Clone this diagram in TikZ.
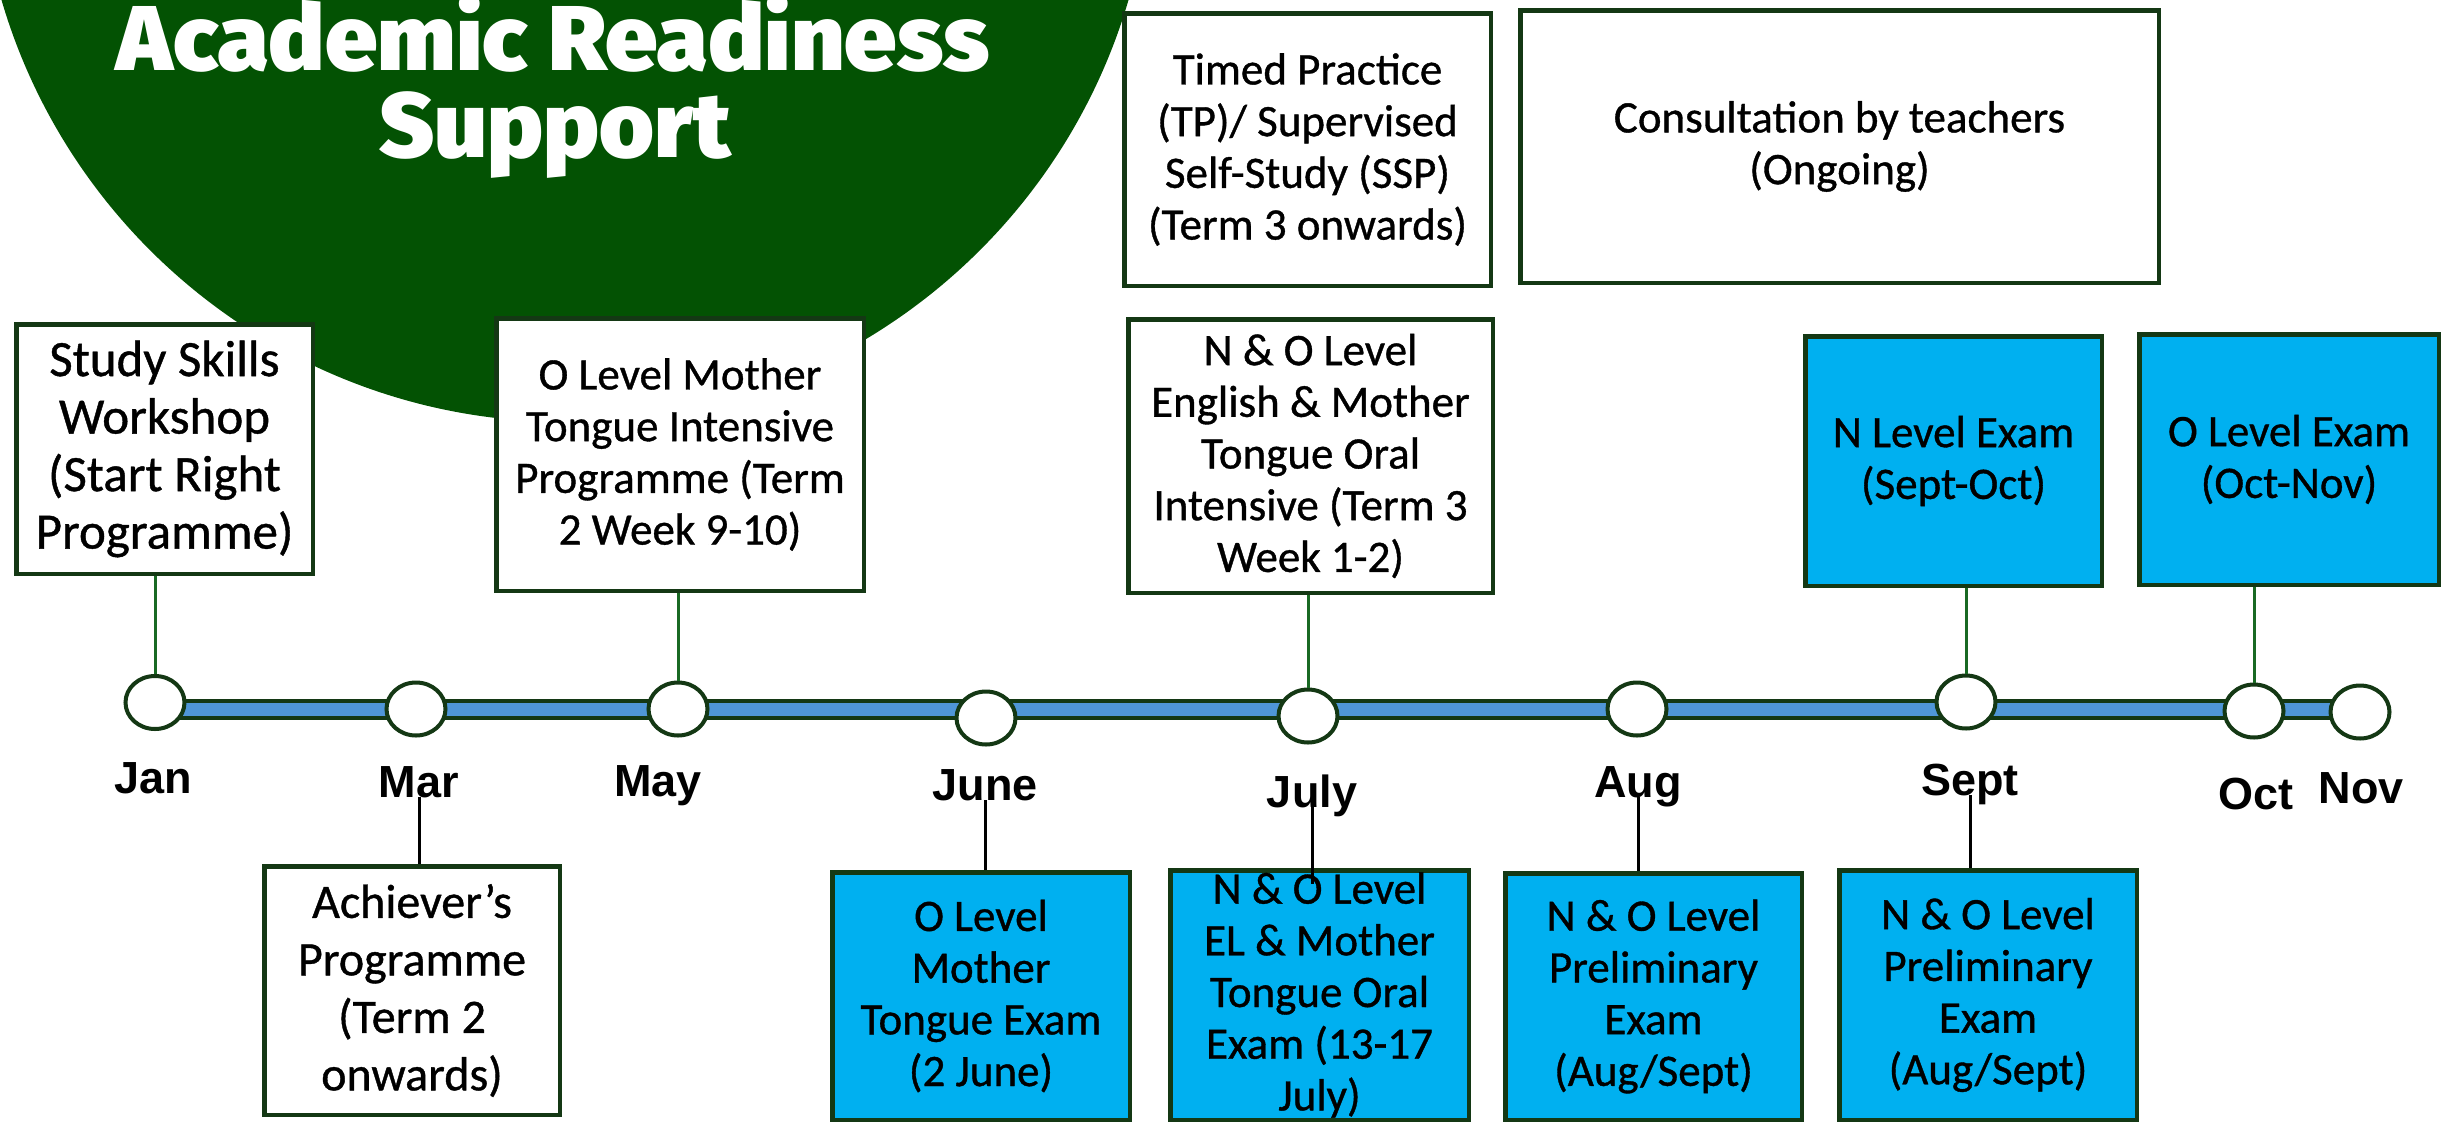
\documentclass[tikz,border=0pt]{standalone}
\usepackage{fontspec}
\setmainfont{Carlito}[FakeBold=0.8]
\newfontfamily\titlefont{Fira Sans Black}
\newfontfamily\monthfont{Liberation Sans}
\usetikzlibrary{shapes.geometric}
\definecolor{circgreen}{RGB}{3,82,3}
\definecolor{edge}{RGB}{20,56,20}
\definecolor{upgreen}{RGB}{25,105,35}
\definecolor{boxblue}{RGB}{0,176,240}
\definecolor{barblue}{RGB}{79,150,215}
\tikzset{
  evbox/.style={draw=edge, line width=4.5pt, fill=white, align=center, inner sep=0pt,
    font=\fontsize{45}{51.7}\selectfont},
  bigbox/.style={evbox, font=\fontsize{51}{57.5}\selectfont},
  exambox/.style={evbox, fill=boxblue},
  monthlbl/.style={font=\monthfont\bfseries\fontsize{45}{50}\selectfont, inner sep=0pt, anchor=base},
  dot/.style={ellipse, draw=edge, line width=4pt, fill=white, minimum width=59pt, minimum height=53pt, inner sep=0pt},
  upline/.style={draw=upgreen, line width=3pt},
  downline/.style={draw=black, line width=3pt},
  titletxt/.style={text=white, font=\titlefont\fontsize{92}{92}\selectfont, inner sep=0pt, anchor=base},
}
\begin{document}
\begin{tikzpicture}[x=1pt,y=-1pt]
\useasboundingbox (0,0) rectangle (2453,1122);
\begin{scope}
  \clip (0,0) rectangle (2453,1122);
  \fill[circgreen] (565,-165) circle (587);
\end{scope}
\node[titletxt] (title1) at (553,70) {\scalebox{1.02}[1]{Academic Readiness}};
\node[titletxt] (title2) at (555,157) {\scalebox{1.02}[1]{Support}};

% timeline bar
\coordinate (barL) at (155,709.5);
\coordinate (barR) at (2360,709.5);
\draw[draw=edge, line width=21pt] (barL) -- (barR);
\draw[draw=barblue, line width=13pt] (barL) -- (barR);

% month dots
\node[dot] (jan) at (155,702.5) {};
\node[dot] (mar) at (416,709) {};
\node[dot] (may) at (678,709) {};
\node[dot] (jun) at (986,718) {};
\node[dot] (jul) at (1308,716) {};
\node[dot] (aug) at (1637,709) {};
\node[dot] (sep) at (1966,702) {};
\node[dot] (oct) at (2254,711) {};
\node[dot] (nov) at (2360,712) {};

% month labels
\node[monthlbl] (ljan) at (153,793) {Jan};
\node[monthlbl] (lmar) at (419,797) {Mar};
\node[monthlbl] (lmay) at (658,796) {May};
\node[monthlbl] (ljun) at (985,800) {June};
\node[monthlbl] (ljul) at (1312,807) {July};
\node[monthlbl] (laug) at (1638,797) {Aug};
\node[monthlbl] (lsep) at (1970,795) {Sept};
\node[monthlbl] (loct) at (2256,809) {Oct};
\node[monthlbl] (lnov) at (2361,803) {Nov};

% upper boxes
\node[bigbox, minimum width=296.5pt, minimum height=249.5pt] (study) at (164.5,449)
  {Study Skills\\Workshop\\(Start Right\\Programme)};
\node[evbox, minimum width=367.5pt, minimum height=272.5pt] (omti) at (680,454.5)
  {O Level Mother\\Tongue Intensive\\Programme (Term\\2 Week 9-10)};
\node[evbox, minimum width=366.5pt, minimum height=272.5pt] (tp) at (1307.5,149.5)
  {Timed Practice\\(TP)/ Supervised\\Self-Study (SSP)\\(Term 3 onwards)};
\node[evbox, minimum width=638.5pt, minimum height=272.5pt] (consult) at (1839.5,146.5)
  {Consultation by teachers\\(Ongoing)};
\node[evbox, minimum width=364.5pt, minimum height=273.5pt] (noint) at (1310.5,456)
  {N \& O Level\\English \& Mother\\Tongue Oral\\Intensive (Term 3\\Week 1-2)};
\node[exambox, minimum width=296.5pt, minimum height=249.5pt] (nexam) at (1953.5,461)
  {N Level Exam\\(Sept-Oct)};
\node[exambox, minimum width=299.5pt, minimum height=250.5pt] (oexam) at (2289,459.5)
  {O Level Exam\\(Oct-Nov)};

% lower boxes
\node[evbox, font=\fontsize{48}{57.5}\selectfont, minimum width=295.5pt, minimum height=248.5pt] (achiever) at (412,990.5)
  {Achiever’s\\Programme\\(Term 2\\onwards)};
\node[exambox, minimum width=297.5pt, minimum height=247.5pt] (omte) at (981,996)
  {O Level\\Mother\\Tongue Exam\\(2 June)};
\node[exambox, minimum width=298.5pt, minimum height=249.5pt] (oralexam) at (1319.5,995)
  {N \& O Level\\EL \& Mother\\Tongue Oral\\Exam (13-17\\July)};
\node[exambox, minimum width=296.5pt, minimum height=246.5pt] (prelim1) at (1653.5,996.5)
  {N \& O Level\\Preliminary\\Exam\\(Aug/Sept)};
\node[exambox, minimum width=297.5pt, minimum height=249.5pt] (prelim2) at (1988,995)
  {N \& O Level\\Preliminary\\Exam\\(Aug/Sept)};

% upper connectors
\draw[upline] (study.south -| jan.north) -- (jan.north);
\draw[upline] (omti.south -| may.north) -- (may.north);
\draw[upline] (noint.south -| jul.north) -- (jul.north);
\draw[upline] (nexam.south -| sep.north) -- (sep.north);
\draw[upline] (oexam.south -| oct.north) -- (oct.north);

% lower connectors
\draw[downline] (lmar.base) -- (lmar.base |- achiever.north);
\draw[downline] (ljun.base) -- (ljun.base |- omte.north);
\draw[downline] ([yshift=4pt]ljul.base) -- ([yshift=-16pt]ljul.base |- oralexam.north);
\draw[downline] (laug.base) -- (laug.base |- prelim1.north);
\draw[downline] (lsep.base) -- (lsep.base |- prelim2.north);
\end{tikzpicture}
\end{document}
